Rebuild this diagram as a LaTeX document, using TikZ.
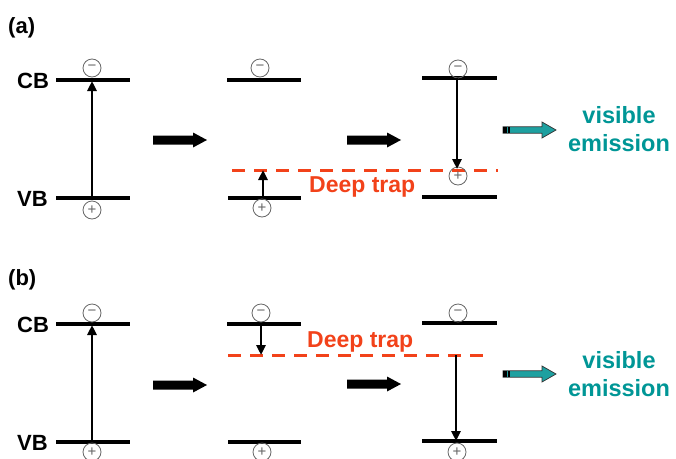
\documentclass[tikz,border=0pt]{standalone}
\usepackage{fontspec}
\setmainfont{Liberation Sans}
\usetikzlibrary{arrows.meta}
\definecolor{trapred}{RGB}{242,66,26}
\definecolor{tealtext}{RGB}{0,150,150}
\definecolor{tealfill}{RGB}{30,160,160}
\begin{document}
\begin{tikzpicture}[x=1pt,y=-1pt,
  lvl/.style={line width=3.2pt},
  trap/.style={draw=trapred,line width=3pt,dash pattern=on 13pt off 9pt},
  trans/.style={line width=2.6pt,-{Triangle[length=10pt,width=9pt]}},
  carrier/.style={circle,draw=black!60,line width=0.8pt,minimum size=18pt,inner sep=0pt,font=\fontsize{15}{15}\selectfont,text=black!60},
  lbl/.style={font=\bfseries\fontsize{22}{24}\selectfont,inner sep=0pt,anchor=base west},
  traplbl/.style={lbl,text=trapred,font=\bfseries\fontsize{23}{24}\selectfont},
  emit/.style={font=\bfseries\fontsize{23.5}{28}\selectfont,text=tealtext,align=center,inner sep=0pt},
  blkarrow/.pic={\fill[black] (-27,-4.5) -- (13,-4.5) -- (13,-7.5) -- (27,0) -- (13,7.5) -- (13,4.5) -- (-27,4.5) -- cycle;},
  emitarrow/.pic={\filldraw[fill=tealfill,draw=black!80,line width=0.7pt] (-26.5,-3.2) -- (12.5,-3.2) -- (12.5,-8) -- (26.5,0) -- (12.5,8) -- (12.5,3.2) -- (-26.5,3.2) -- cycle;
    \fill[black] (-26.5,-3.2) rectangle (-23,3.2);
    \fill[black] (-21.5,-3.2) rectangle (-19.8,3.2);}
]
\useasboundingbox (0,0) rectangle (676,458);

% ===================== (a) =====================
\node[lbl] (la) at (8,33) {(a)};
\node[lbl] (cba) at (17,88) {CB};
\node[lbl] (vba) at (17,206) {VB};

% panel 1
\coordinate (a1cl) at (56,80);  \coordinate (a1cr) at (130,80);
\coordinate (a1vl) at (56,198); \coordinate (a1vr) at (130,198);
\draw[lvl] (a1cl) -- (a1cr);
\draw[lvl] (a1vl) -- (a1vr);
\node[carrier] (a1e) at (92,68) {−};
\node[carrier] (a1h) at (92,210) {+};
\coordinate (a1s) at (92,198); \coordinate (a1t) at (92,81);
\draw[trans] (a1s) -- (a1t);

\pic at (180,140) {blkarrow};

% panel 2
\coordinate (a2cl) at (227,80);  \coordinate (a2cr) at (301,80);
\coordinate (a2vl) at (228,198); \coordinate (a2vr) at (301,198);
\draw[lvl] (a2cl) -- (a2cr);
\draw[lvl] (a2vl) -- (a2vr);
\coordinate (tra1) at (232,170); \coordinate (tra2) at (498,170);
\draw[trap] (tra1) -- (tra2);
\node[carrier] (a2e) at (260,68) {−};
\node[carrier] (a2h) at (262,208) {+};
\coordinate (a2s) at (263,198); \coordinate (a2t) at (263,170);
\draw[trans] (a2s) -- (a2t);
\node[traplbl] (tla) at (309,192) {Deep trap};

\pic at (374,140) {blkarrow};

% panel 3
\coordinate (a3cl) at (422,78);  \coordinate (a3cr) at (497,78);
\coordinate (a3vl) at (422,197); \coordinate (a3vr) at (497,197);
\draw[lvl] (a3cl) -- (a3cr);
\draw[lvl] (a3vl) -- (a3vr);
\node[carrier] (a3e) at (458,69) {−};
\node[carrier] (a3h) at (458,176) {+};
\coordinate (a3s) at (457,78); \coordinate (a3t) at (457,169);
\draw[trans] (a3s) -- (a3t);

\pic at (529.5,130) {emitarrow};
\node[emit] (em1) at (619,129) {visible\\emission};

% ===================== (b) =====================
\node[lbl] (lb) at (8,285) {(b)};
\node[lbl] (cbb) at (17,332) {CB};
\node[lbl] (vbb) at (17,450) {VB};

% panel 1
\coordinate (b1cl) at (56,324);  \coordinate (b1cr) at (130,324);
\coordinate (b1vl) at (56,442); \coordinate (b1vr) at (130,442);
\draw[lvl] (b1cl) -- (b1cr);
\draw[lvl] (b1vl) -- (b1vr);
\node[carrier] (b1e) at (92,313) {−};
\node[carrier] (b1h) at (92,452) {+};
\coordinate (b1s) at (92,442); \coordinate (b1t) at (92,325);
\draw[trans] (b1s) -- (b1t);

\pic at (180,385) {blkarrow};

% panel 2
\coordinate (b2cl) at (227,324);  \coordinate (b2cr) at (301,324);
\coordinate (b2vl) at (228,442); \coordinate (b2vr) at (301,442);
\draw[lvl] (b2cl) -- (b2cr);
\draw[lvl] (b2vl) -- (b2vr);
\coordinate (trb1) at (228,355); \coordinate (trb2) at (483,355);
\draw[trap] (trb1) -- (trb2);
\node[carrier] (b2e) at (261,313) {−};
\node[carrier] (b2h) at (262,452) {+};
\coordinate (b2s) at (261,324); \coordinate (b2t) at (261,355);
\draw[trans] (b2s) -- (b2t);
\node[traplbl] (tlb) at (307,347) {Deep trap};

\pic at (374,384) {blkarrow};

% panel 3
\coordinate (b3cl) at (422,323);  \coordinate (b3cr) at (497,323);
\coordinate (b3vl) at (422,441); \coordinate (b3vr) at (497,441);
\draw[lvl] (b3cl) -- (b3cr);
\draw[lvl] (b3vl) -- (b3vr);
\node[carrier] (b3e) at (458,313) {−};
\node[carrier] (b3h) at (457,452) {+};
\coordinate (b3s) at (456,355); \coordinate (b3t) at (456,441);
\draw[trans] (b3s) -- (b3t);

\pic at (529.5,374) {emitarrow};
\node[emit] (em2) at (619,374) {visible\\emission};
\end{tikzpicture}
\end{document}
